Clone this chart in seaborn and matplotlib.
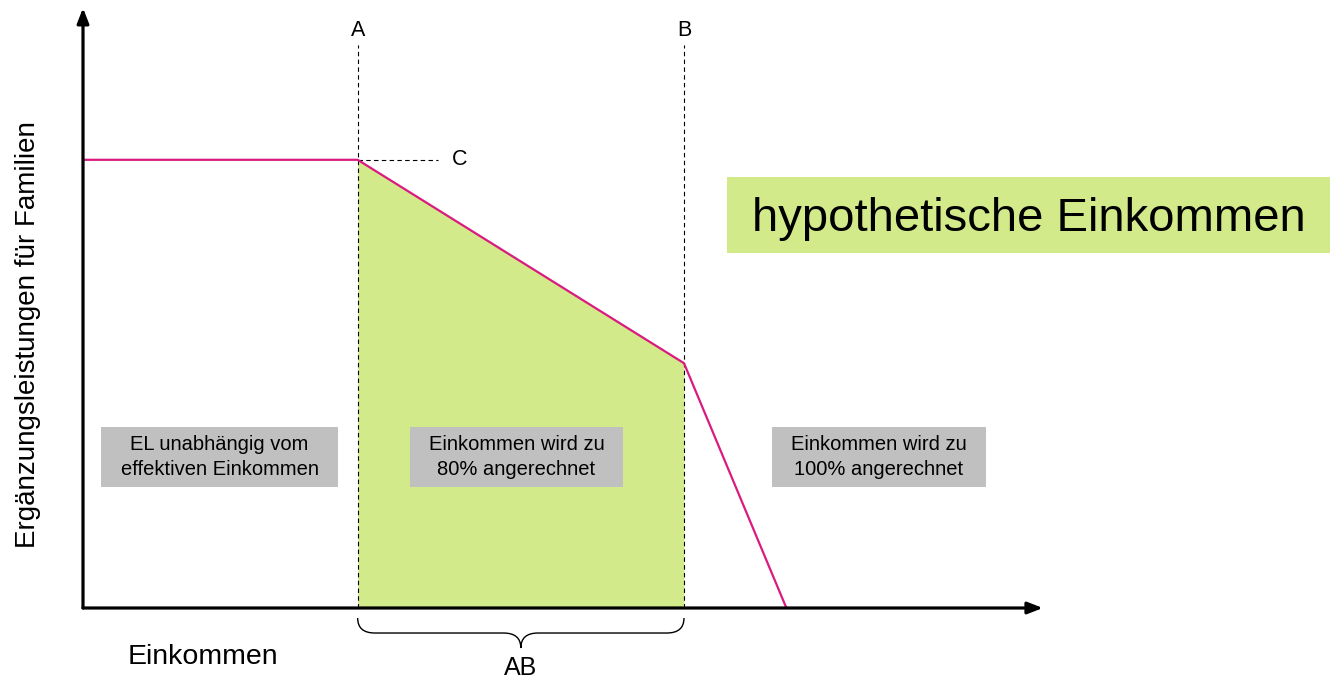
import matplotlib
matplotlib.use("Agg")
import matplotlib.pyplot as plt
import seaborn as sns
import pandas as pd
from matplotlib.patches import Rectangle, PathPatch
from matplotlib.path import Path

# Daten (schematisch, Achsen 0..100)
einkommen = [0, 28.7, 62.8, 73.5]
leistung = [74.7, 74.7, 40.8, 0]
punkt_a = 28.7
punkt_b = 62.8
c_niveau = 74.7
bereich_texte = ["EL unabhängig vom\neffektiven Einkommen",
                 "Einkommen wird zu\n80% angerechnet",
                 "Einkommen wird zu\n100% angerechnet"]
titel_box = "hypothetische Einkommen"

MAGENTA = "#db1a80"
GRUEN = "#d3ea8b"
GRAU = "#c0c0c0"

sns.set_style("white")
plt.rcParams['font.family'] = ['Liberation Sans', 'DejaVu Sans']
plt.rcParams['text.color'] = 'black'

fig = plt.figure(figsize=(13.3, 6.8), dpi=100)
ax = fig.add_axes([83 / 1330, 72 / 680, 957 / 1330, 600 / 680])
ax.set_xlim(0, 100)
ax.set_ylim(0, 100)
for s in ax.spines.values():
    s.set_visible(False)
ax.set_xticks([])
ax.set_yticks([])

df = pd.DataFrame({"Einkommen": einkommen, "EL": leistung})

# gruene Flaeche zwischen A und B
ax.fill_between(einkommen[1:3], leistung[1:3], 0, color=GRUEN, lw=0, zorder=1)

# EL-Kurve
sns.lineplot(data=df, x="Einkommen", y="EL", color=MAGENTA, lw=1.6, ax=ax,
             zorder=4, sort=False)
ax.set_xlabel("")
ax.set_ylabel("")

# Achsenpfeile
pfeil = dict(arrowstyle="-|>,head_length=0.9,head_width=0.35", color="black",
             lw=2.3, shrinkA=0, shrinkB=0)
ax.annotate("", xy=(100.3, 0), xytext=(0, 0), arrowprops=pfeil,
            annotation_clip=False, zorder=5)
ax.annotate("", xy=(0, 100), xytext=(0, 0), arrowprops=pfeil,
            annotation_clip=False, zorder=5)

# gestrichelte Linien A, B, C
for xp, lab in [(punkt_a, "A"), (punkt_b, "B")]:
    ax.plot([xp, xp], [0, 93.8], ls=(0, (4, 3)), color="black", lw=0.8, zorder=3)
    ax.text(xp, 96.3, lab, ha="center", va="center", fontsize=15.5)
ax.plot([punkt_a, 37.1], [c_niveau, c_niveau], ls=(0, (4, 3)), color="black",
        lw=0.8, zorder=3)
ax.text(39.4, c_niveau, "C", ha="center", va="center", fontsize=15.5)

# graue Kaesten (x-Position, Breite)
kaesten = [(1.88, 24.77), (34.17, 22.26), (71.99, 22.36)]
for (x0, w), txt in zip(kaesten, bereich_texte):
    ax.add_patch(Rectangle((x0, 20.17), w, 10.0, facecolor=GRAU,
                           edgecolor="none", zorder=2, clip_on=False))
    ax.text(x0 + w / 2, 25.17, txt, ha="center", va="center", fontsize=14.5,
            linespacing=1.35, zorder=6)

# gruener Titelkasten
ax.add_patch(Rectangle((67.29, 59.17), 63.0, 12.66, facecolor=GRUEN,
                       edgecolor="none", zorder=2, clip_on=False))
ax.text(98.8, 64.9, titel_box, ha="center", va="center", fontsize=34, zorder=6)

# geschweifte Klammer AB
mitte = (punkt_a + punkt_b) / 2
y0, y1, y2 = -1.67, -4.17, -6.67
r = 1.8
verts = [(punkt_a, y0), (punkt_a, y1), (punkt_a + r, y1),
         (mitte - r, y1),
         (mitte, y1), (mitte, y2),
         (mitte, y1), (mitte + r, y1),
         (punkt_b - r, y1),
         (punkt_b, y1), (punkt_b, y0)]
codes = [Path.MOVETO, Path.CURVE3, Path.CURVE3,
         Path.LINETO,
         Path.CURVE3, Path.CURVE3,
         Path.CURVE3, Path.CURVE3,
         Path.LINETO,
         Path.CURVE3, Path.CURVE3]
ax.add_patch(PathPatch(Path(verts, codes), facecolor="none", edgecolor="black",
                       lw=1.0, clip_on=False))
ax.text(mitte, -10, "AB", ha="center", va="center", fontsize=18)

# Achsenbeschriftungen
fig.text(28 / 1330, 1 - 335 / 680, "Ergänzungsleistungen für Familien",
         rotation=90, ha="center", va="center", fontsize=20)
fig.text(203 / 1330, 1 - 657 / 680, "Einkommen", ha="center", va="center",
         fontsize=20.5)

fig.savefig("out.png", dpi=100)
